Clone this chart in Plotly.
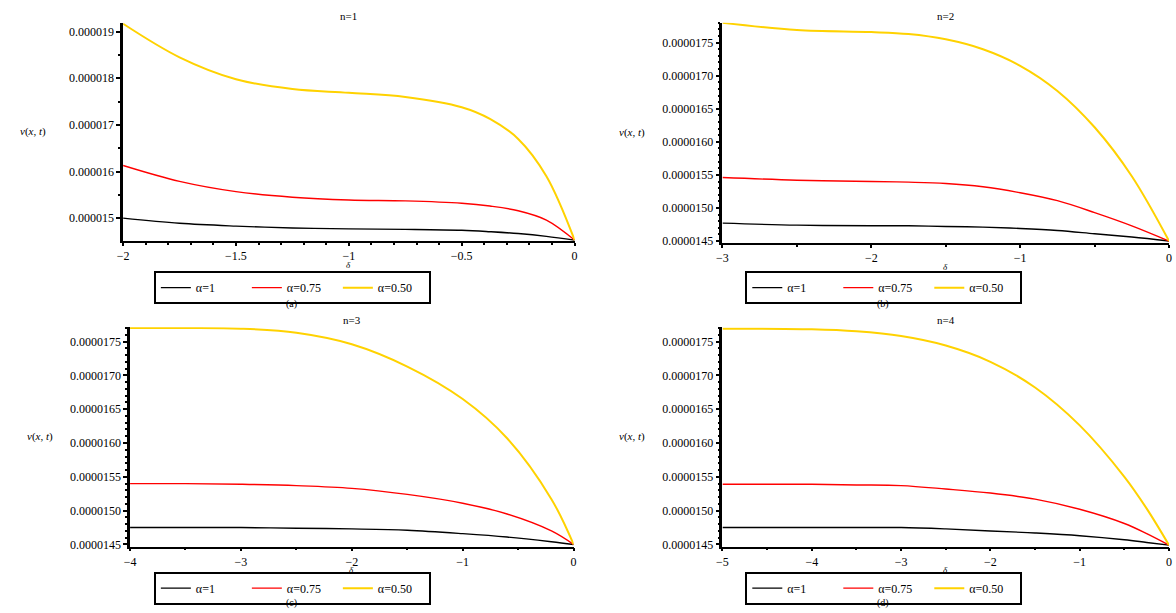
import plotly.graph_objects as go

W, H = 1176, 613
UNIT = 1e-6  # values below are in units of 1e-6

series_names = ["α=1", "α=0.75", "α=0.50"]
series_colors = ["#000000", "#FF0000", "#FFD200"]

# (a) n=1
xa = [-2, -1.75, -1.5, -1.25, -1.0, -0.75, -0.5, -0.375, -0.25, -0.125, 0]
a_black = [15.00, 14.89, 14.83, 14.79, 14.77, 14.76, 14.74, 14.71, 14.67, 14.61, 14.53]
a_red = [16.13, 15.79, 15.57, 15.45, 15.39, 15.37, 15.32, 15.26, 15.16, 14.96, 14.53]
a_yellow = [19.17, 18.45, 17.98, 17.77, 17.69, 17.60, 17.38, 17.13, 16.70, 15.90, 14.53]

# (b) n=2
xb = [-3, -2.5, -2, -1.75, -1.5, -1.25, -1, -0.75, -0.5, -0.25, 0]
b_black = [14.77, 14.74, 14.73, 14.73, 14.72, 14.71, 14.69, 14.66, 14.61, 14.56, 14.50]
b_red = [15.46, 15.42, 15.40, 15.39, 15.37, 15.32, 15.23, 15.11, 14.93, 14.73, 14.50]
b_yellow = [17.80, 17.69, 17.66, 17.63, 17.55, 17.40, 17.15, 16.77, 16.22, 15.48, 14.50]

# (c) n=3
xc = [-4, -3.5, -3, -2.5, -2, -1.5, -1, -0.6, -0.2, 0]
c_black = [14.75, 14.75, 14.75, 14.74, 14.73, 14.71, 14.66, 14.61, 14.54, 14.50]
c_red = [15.40, 15.40, 15.39, 15.37, 15.33, 15.24, 15.11, 14.95, 14.70, 14.50]
c_yellow = [17.70, 17.70, 17.69, 17.63, 17.46, 17.13, 16.65, 16.07, 15.17, 14.50]

# (d) n=4
xd = [-5, -4, -3.5, -3, -2.5, -2, -1.5, -1, -0.5, -0.25, 0]
d_black = [14.75, 14.75, 14.75, 14.75, 14.73, 14.70, 14.67, 14.63, 14.57, 14.53, 14.49]
d_red = [15.39, 15.39, 15.38, 15.37, 15.32, 15.26, 15.17, 15.02, 14.81, 14.66, 14.49]
d_yellow = [17.69, 17.68, 17.65, 17.58, 17.44, 17.20, 16.82, 16.26, 15.50, 15.03, 14.49]

titles = ["n=1", "n=2", "n=3", "n=4"]
captions = ["(a)", "(b)", "(c)", "(d)"]

panels = [
    dict(x=xa, ys=[a_black, a_red, a_yellow], px=(118, 573), py=(23, 243),
         yr=(14.51, 19.19), ydt=1.0, ymin=0.5, yfmt=".6f", xdt=0.5, xmin=0.1,
         leg=(149, 290), cap=306),
    dict(x=xb, ys=[b_black, b_red, b_yellow], px=(722, 1172), py=(23, 245),
         yr=(14.47, 17.80), ydt=0.5, ymin=0.1, yfmt=".7f", xdt=1, xmin=0.5,
         leg=(745, 290), cap=306),
    dict(x=xc, ys=[c_black, c_red, c_yellow], px=(125, 572), py=(330, 551),
         yr=(14.47, 17.71), ydt=0.5, ymin=0.1, yfmt=".7f", xdt=1, xmin=0.5,
         leg=(149, 593), cap=608),
    dict(x=xd, ys=[d_black, d_red, d_yellow], px=(722, 1172), py=(330, 551),
         yr=(14.47, 17.71), ydt=0.5, ymin=0.1, yfmt=".7f", xdt=1, xmin=0.5,
         leg=(745, 593), cap=608),
]


def fx(px):
    return min(1.0, max(0.0, px / W))


def fy(py):
    return min(1.0, max(0.0, 1 - py / H))


FONT = "Liberation Serif"
fig = go.Figure()
layout = dict(width=W, height=H, margin=dict(l=0, r=0, t=0, b=0),
              paper_bgcolor="white", plot_bgcolor="white",
              font=dict(family=FONT, size=11, color="black"))
annotations = []

for i, p in enumerate(panels):
    k = "" if i == 0 else str(i + 1)
    legname = "legend" + k
    for j in range(3):
        fig.add_trace(go.Scatter(
            x=p["x"], y=[v * UNIT for v in p["ys"][j]], mode="lines",
            line=dict(color=series_colors[j], width=2 if j == 2 else 1.4,
                      shape="spline", smoothing=1.0),
            name=series_names[j], xaxis="x" + k, yaxis="y" + k,
            legend=legname, showlegend=True))
    x0, x1 = p["px"]
    y0, y1 = p["py"]
    layout["xaxis" + k] = dict(
        domain=[fx(x0), fx(x1)], anchor="y" + k,
        range=[p["x"][0], 0], dtick=p["xdt"], tick0=0,
        showline=True, linecolor="black", linewidth=1.5,
        ticks="outside", ticklen=3, tickcolor="black", tickwidth=1.5,
        showgrid=False, zeroline=False, tickfont=dict(size=12),
        minor=dict(dtick=p["xmin"], tick0=0, ticks="outside", ticklen=2,
                   tickcolor="black", showgrid=False))
    layout["yaxis" + k] = dict(
        domain=[fy(y1), fy(y0)], anchor="x" + k,
        range=[p["yr"][0] * UNIT, p["yr"][1] * UNIT],
        dtick=p["ydt"] * UNIT, tick0=0, tickformat=p["yfmt"],
        showline=True, linecolor="black", linewidth=2.5,
        ticks="outside", ticklen=4, tickcolor="black", tickwidth=1.5,
        showgrid=False, zeroline=False, tickfont=dict(size=12),
        minor=dict(dtick=p["ymin"] * UNIT, tick0=0, ticks="outside", ticklen=2,
                   tickcolor="black", showgrid=False))
    lx, lyc = p["leg"]
    layout[legname] = dict(
        x=fx(lx), y=fy(lyc), xanchor="left", yanchor="middle",
        orientation="h", bordercolor="black", borderwidth=2,
        bgcolor="white", font=dict(family=FONT, size=12),
        entrywidth=46, entrywidthmode="pixels")
    cx = (x0 + x1) / 2
    annotations.append(dict(text=titles[i], x=fx(cx), y=fy(y0 - 7),
                            xref="paper", yref="paper", showarrow=False,
                            font=dict(size=11), xanchor="center", yanchor="middle"))
    annotations.append(dict(text="<i>δ</i>", x=fx(cx), y=fy(y1 + 24),
                            xref="paper", yref="paper", showarrow=False,
                            font=dict(size=9), xanchor="center", yanchor="middle"))
    annotations.append(dict(text=captions[i], x=fx(lx + 139), y=fy(p["cap"]),
                            xref="paper", yref="paper", showarrow=False,
                            font=dict(size=10), xanchor="center", yanchor="middle"))
    annotations.append(dict(text="<i>v</i>(<i>x</i>, <i>t</i>)",
                            x=fx(x0 - 91), y=fy((y0 + y1) / 2),
                            xref="paper", yref="paper", showarrow=False,
                            font=dict(size=11), xanchor="center", yanchor="middle"))

layout["annotations"] = annotations
fig.update_layout(**layout)
fig.write_html("out.html",
               config={"displayModeBar": False},
               post_script="document.body.style.margin='0';"
                           "document.body.style.overflow='hidden';")
